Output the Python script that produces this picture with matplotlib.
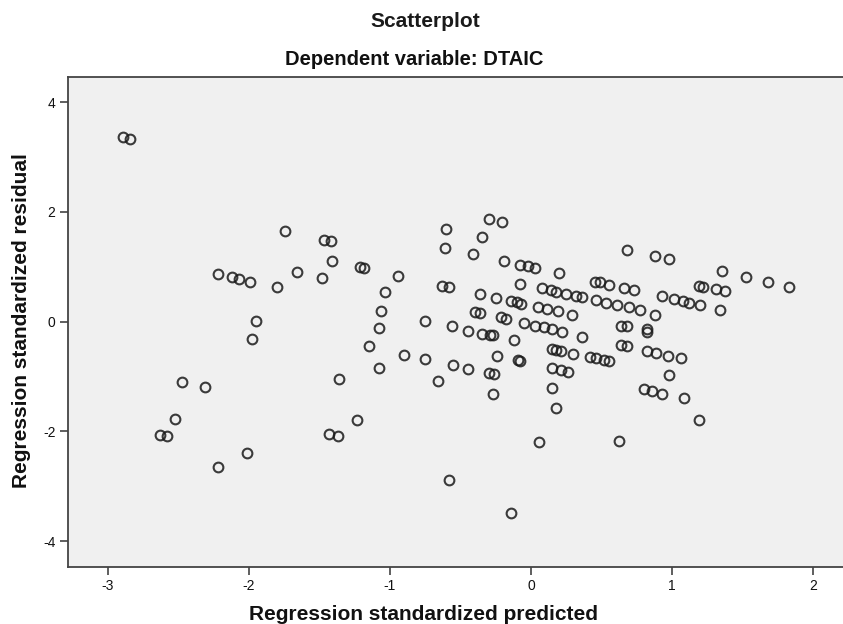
import matplotlib
matplotlib.use("Agg")
import matplotlib.pyplot as plt

plt.rcParams['font.family'] = ['Liberation Sans', 'DejaVu Sans']
plt.rcParams['axes.unicode_minus'] = False

pred = [-2.89, -2.84, -1.745, -1.47, -1.42, -1.41, -2.22, -2.115, -2.07, -1.99,
        -1.80, -1.66, -1.48, -1.95, -1.98, -2.47, -2.31, -2.52, -2.63, -2.58,
        -2.01, -2.22, -1.36, -1.43, -1.37, -1.21, -1.18, -0.945, -1.035, -1.06,
        -1.08, -0.75, -0.63, -0.58, -0.60, -0.61, -0.41, -0.35, -0.30, -0.205,
        -0.19, -0.08, -0.02, 0.025, -0.08, 0.08, 0.14, 0.18, -0.36, -0.25,
        -0.14, -0.10, -0.07, 0.05, 0.11, 0.19, -0.40, -0.36, -0.21, -0.18,
        -0.05, 0.03, 0.09, 0.15, 0.22, -0.56, -1.15, -1.08, -0.90, -0.75,
        -0.555, -0.66, -0.445, -0.445, -0.35, -0.29, -0.27, -0.12, -0.24, -0.095,
        -0.08, -0.30, -0.26, -0.27, -1.23, 0.06, -0.58, -0.14, 0.68, 0.875,
        0.975, 0.20, 0.245, 0.32, 0.36, 0.45, 0.49, 0.55, 0.66, 0.73,
        0.93, 1.01, 1.08, 1.12, 0.29, 0.46, 0.53, 0.61, 0.695, 0.77,
        0.88, 0.64, 0.68, 0.82, 0.36, 0.15, 0.18, 0.21, 0.30, 0.42,
        0.46, 0.52, 0.55, 0.64, 0.68, 0.82, 0.885, 0.97, 1.06, 0.975,
        0.80, 0.86, 0.93, 1.085, 0.15, 0.21, 0.26, 0.15, 0.18, 0.62,
        1.35, 1.525, 1.68, 1.83, 1.19, 1.22, 1.31, 1.375, 1.20, 1.34,
        1.19, 0.82]
resid = [3.36, 3.33, 1.65, 1.49, 1.47, 1.11, 0.87, 0.81, 0.78, 0.73,
         0.63, 0.90, 0.80, 0.02, -0.32, -1.09, -1.19, -1.77, -2.06, -2.08,
         -2.40, -2.64, -1.04, -2.04, -2.08, 1.00, 0.98, 0.84, 0.54, 0.20,
         -0.12, 0.02, 0.66, 0.63, 1.69, 1.34, 1.23, 1.55, 1.87, 1.82,
         1.11, 1.04, 1.01, 0.98, 0.69, 0.61, 0.57, 0.55, 0.50, 0.44,
         0.38, 0.36, 0.33, 0.27, 0.24, 0.19, 0.17, 0.15, 0.08, 0.05,
         -0.02, -0.07, -0.10, -0.14, -0.18, -0.08, -0.45, -0.84, -0.60, -0.68,
         -0.79, -1.08, -0.16, -0.86, -0.22, -0.24, -0.25, -0.34, -0.62, -0.70,
         -0.71, -0.93, -0.95, -1.31, -1.80, -2.20, -2.88, -3.49, 1.31, 1.20,
         1.14, 0.89, 0.50, 0.47, 0.45, 0.73, 0.72, 0.67, 0.62, 0.58,
         0.47, 0.42, 0.38, 0.35, 0.13, 0.39, 0.34, 0.30, 0.26, 0.21,
         0.13, -0.07, -0.08, -0.13, -0.27, -0.50, -0.52, -0.53, -0.58, -0.65,
         -0.67, -0.70, -0.72, -0.42, -0.44, -0.53, -0.57, -0.62, -0.67, -0.97,
         -1.23, -1.26, -1.31, -1.39, -0.85, -0.88, -0.91, -1.20, -1.57, -2.17,
         0.92, 0.82, 0.73, 0.64, 0.66, 0.64, 0.59, 0.56, 0.30, 0.22,
         -1.80, -0.18]

title = "Scatterplot"
subtitle = "Dependent variable: DTAIC"
xlabel = "Regression standardized predicted"
ylabel = "Regression standardized residual"
xticks = [-3, -2, -1, 0, 1, 2]
yticks = [-4, -2, 0, 2, 4]

fig = plt.figure(figsize=(8.43, 6.24), dpi=100)
ax = fig.add_axes([68/843, 57/624, (843-68)/843, (567-77)/624])
ax.set_facecolor('#f0f0f0')
ax.plot(pred, resid, linestyle='none', marker='o', markersize=7.0,
        markerfacecolor='none', markeredgecolor='#1a1a1a', markeredgewidth=1.5,
        alpha=0.85)
ax.set_xlim(-3.28, 2.21)
ax.set_ylim(-4.47, 4.46)
ax.set_xticks(xticks)
ax.set_yticks(yticks)
ax.tick_params(direction='out', length=6, width=1.1, colors='#333333',
               labelsize=10, labelcolor='#111111', pad=3)
for s in ax.spines.values():
    s.set_color('#444444')
    s.set_linewidth(1.3)
ax.spines['right'].set_visible(False)

fig.text(0.504, 0.965, title, ha='center', va='center', fontsize=15, fontweight='bold',
         color='#1a1a1a')
fig.text(0.491, 0.905, subtitle, ha='center', va='center', fontsize=14.5, fontweight='bold',
         color='#111111')
fig.text(0.502, 0.006, xlabel, ha='center', va='baseline', fontsize=15, fontweight='bold',
         color='#111111')
fig.text(0.025, 0.487, ylabel, ha='center', va='center', rotation=90, fontsize=15,
         fontweight='bold', color='#111111')

fig.savefig('out.png', dpi=100, facecolor='white')
